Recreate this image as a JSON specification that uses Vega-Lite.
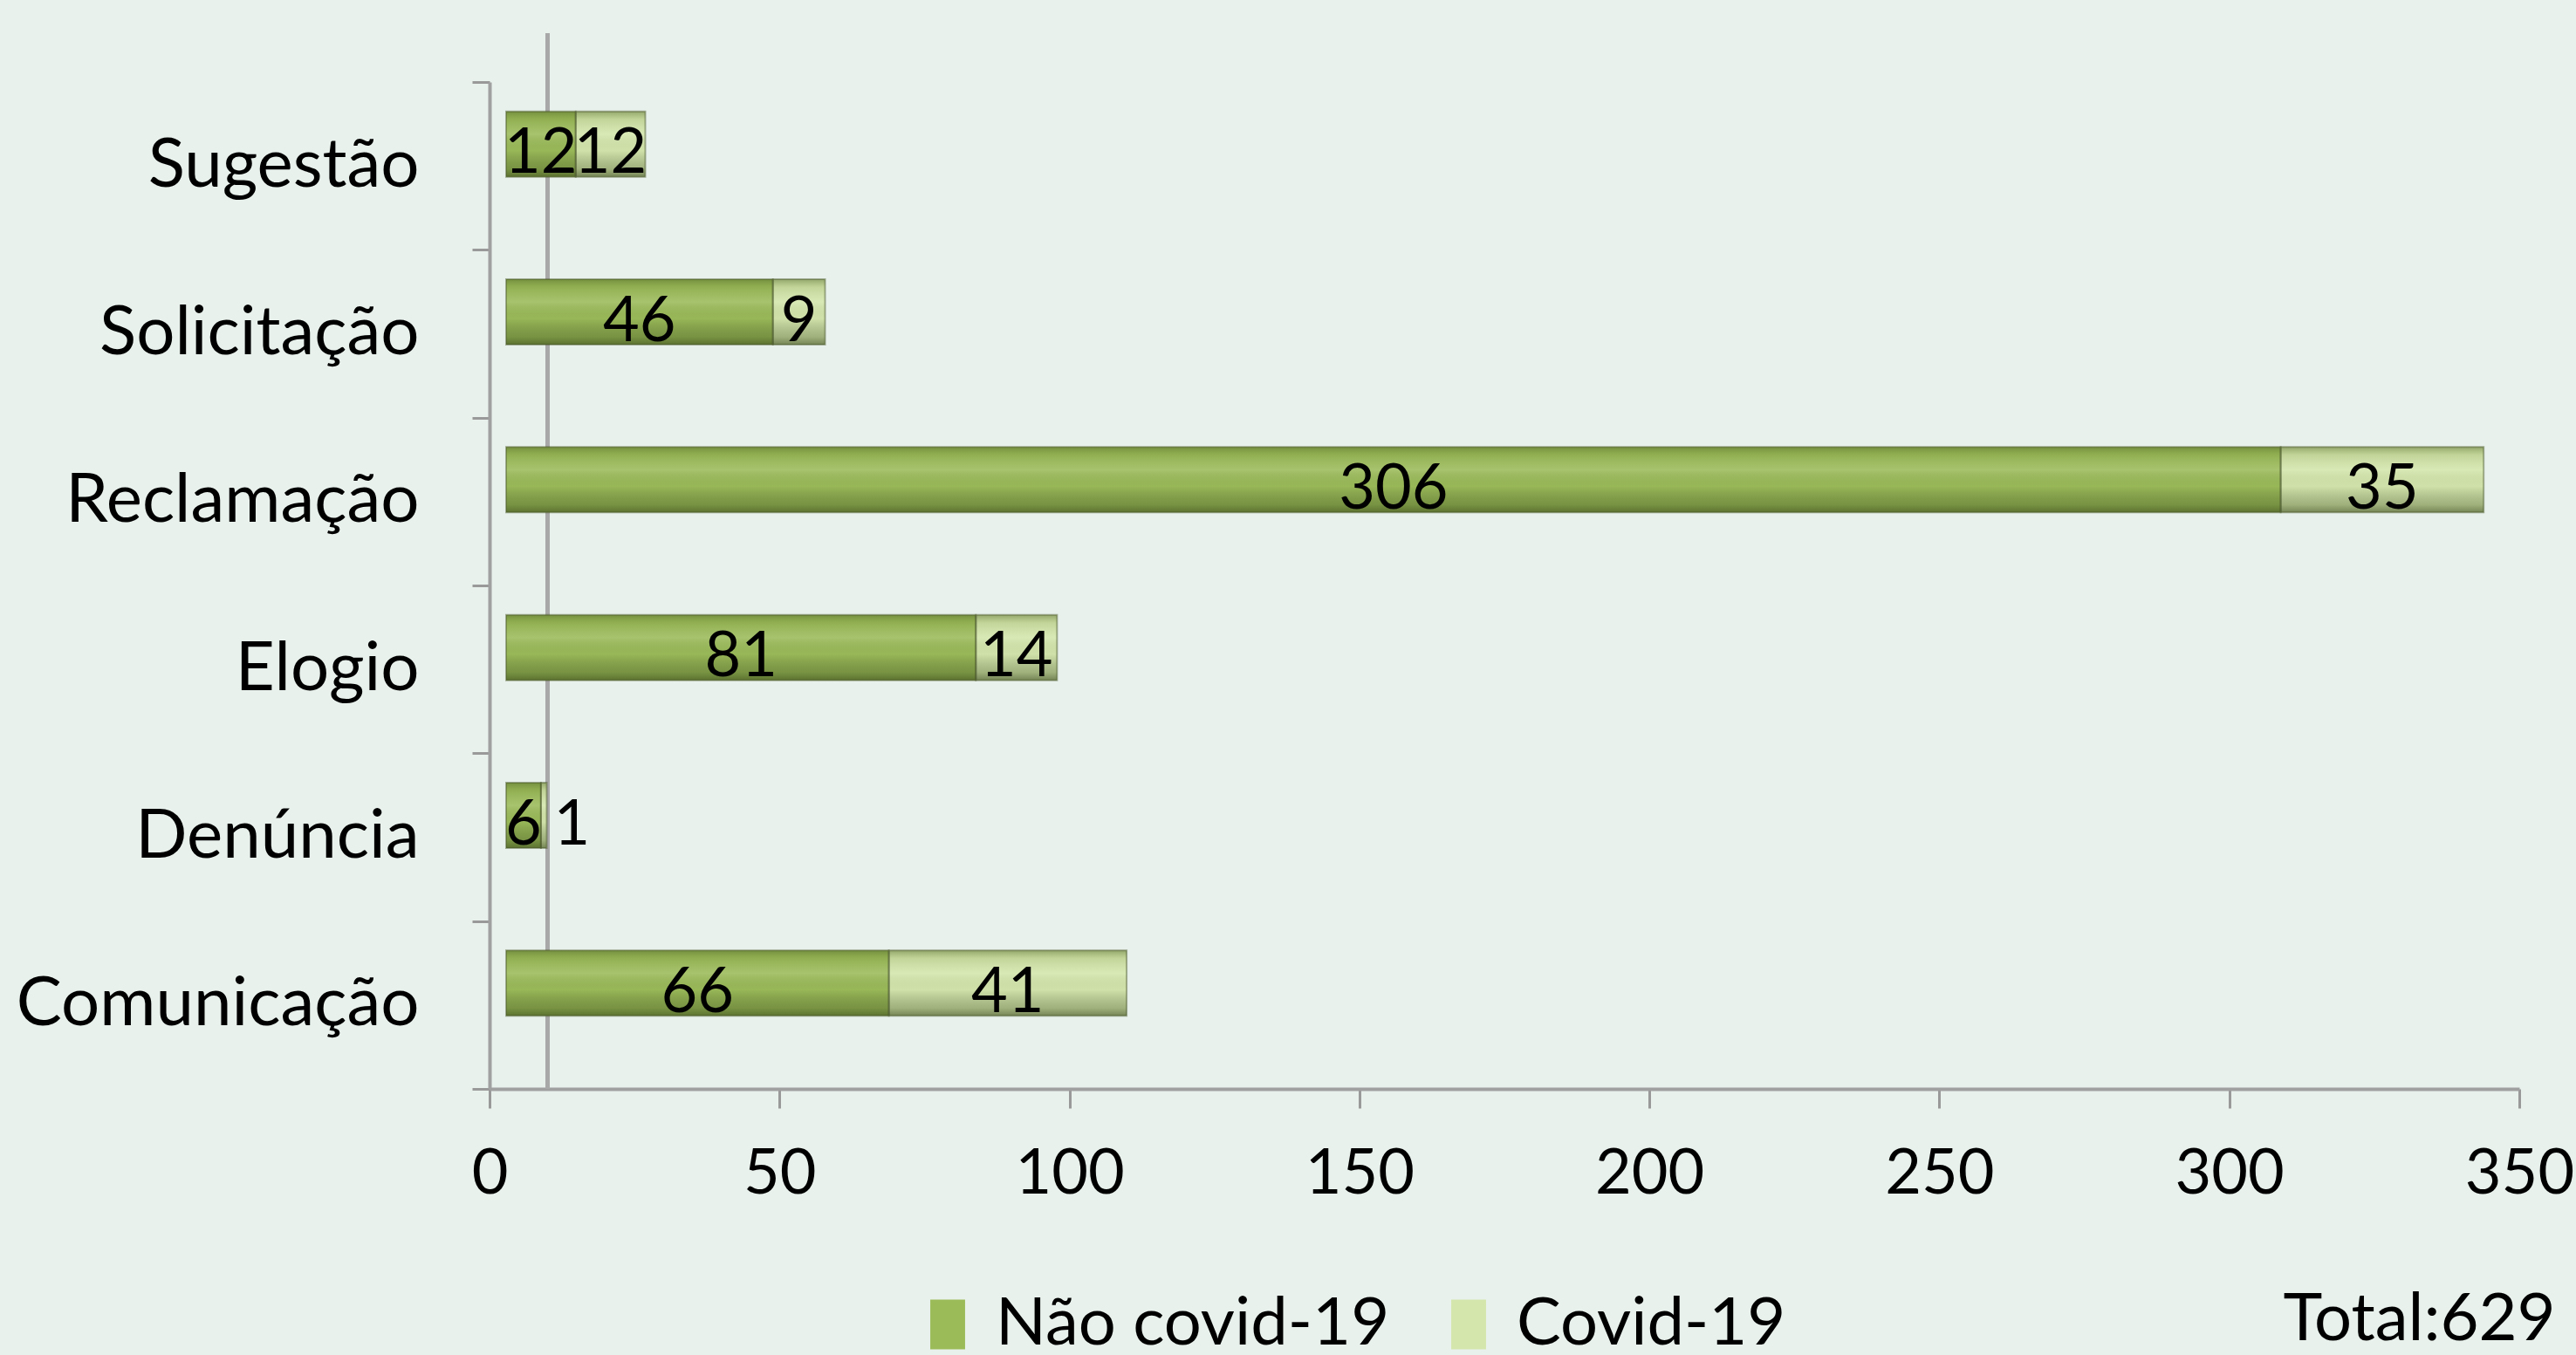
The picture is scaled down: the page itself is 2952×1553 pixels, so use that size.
{
  "$schema": "https://vega.github.io/schema/vega-lite/v6.json",
  "width": 2326,
  "height": 1154,
  "autosize": {"type": "none"},
  "padding": {"left": 561, "top": 94, "right": 65, "bottom": 305},
  "background": "#E8F1EC",
  "config": {"view": {"stroke": null}, "font": "Lato"},
  "title": {"text": "Total:629", "orient": "bottom", "anchor": "end", "baseline": "top", "offset": -80, "dx": -21, "fontSize": 76, "fontWeight": "normal", "color": "#000000", "font": "Lato"},
  "data": {"values": [
    {"categoria": "Sugestão", "serie": "Não covid-19", "k": 0, "valor": 12},
    {"categoria": "Sugestão", "serie": "Covid-19", "k": 1, "valor": 12},
    {"categoria": "Solicitação", "serie": "Não covid-19", "k": 0, "valor": 46},
    {"categoria": "Solicitação", "serie": "Covid-19", "k": 1, "valor": 9},
    {"categoria": "Reclamação", "serie": "Não covid-19", "k": 0, "valor": 306},
    {"categoria": "Reclamação", "serie": "Covid-19", "k": 1, "valor": 35},
    {"categoria": "Elogio", "serie": "Não covid-19", "k": 0, "valor": 81},
    {"categoria": "Elogio", "serie": "Covid-19", "k": 1, "valor": 14},
    {"categoria": "Denúncia", "serie": "Não covid-19", "k": 0, "valor": 6},
    {"categoria": "Denúncia", "serie": "Covid-19", "k": 1, "valor": 1},
    {"categoria": "Comunicação", "serie": "Não covid-19", "k": 0, "valor": 66},
    {"categoria": "Comunicação", "serie": "Covid-19", "k": 1, "valor": 41}
  ]},
  "encoding": {
    "y": {
      "field": "categoria", "type": "nominal",
      "sort": ["Sugestão", "Solicitação", "Reclamação", "Elogio", "Denúncia", "Comunicação"],
      "scale": {"paddingInner": 0, "paddingOuter": 0},
      "axis": {
        "title": null, "domainColor": "#A0A0A0", "domainWidth": 4,
        "tickColor": "#999999", "tickWidth": 3, "tickSize": 20, "tickBand": "extent",
        "labelFontSize": 78, "labelColor": "#000000", "labelPadding": 61, "labelFont": "Lato", "labelLimit": 0
      }
    },
    "x": {
      "field": "valor", "type": "quantitative", "stack": "zero",
      "scale": {"domain": [0, 350], "nice": false, "zero": true},
      "axis": {
        "title": null, "values": [0, 50, 100, 150, 200, 250, 300, 350], "grid": false,
        "domainColor": "#A0A0A0", "domainWidth": 4,
        "tickColor": "#999999", "tickWidth": 3, "tickSize": 22,
        "labelFontSize": 72, "labelColor": "#000000", "labelPadding": 40, "labelFont": "Lato",
        "labelFlush": false
      }
    },
    "order": {"field": "k", "type": "quantitative"}
  },
  "layer": [
    {
      "mark": {"type": "rule", "color": "#A8A8A8", "strokeWidth": 4, "yOffset": -56, "y2Offset": -43},
      "encoding": {"x": {"datum": 10}, "y": null, "order": null}
    },
    {
      "mark": {"type": "bar", "xOffset": 19, "yOffset": -25, "height": {"band": 0.39}},
      "encoding": {
        "color": {
          "field": "serie", "type": "nominal",
          "scale": {"domain": ["Não covid-19", "Covid-19"], "range": ["#9BBB59", "#D4E6AC"]},
          "legend": {
            "title": null, "orient": "none", "direction": "horizontal",
            "legendX": 487, "legendY": 1386,
            "symbolType": "M-0.7,-1H0.7V1H-0.7Z", "symbolSize": 3249,
            "symbolStrokeWidth": 0, "labelFontSize": 76, "labelFont": "Lato", "labelColor": "#000000",
            "labelOffset": 17, "columnPadding": 52, "symbolOpacity": 1, "labelLimit": 0
          }
        }
      }
    },
    {
      "mark": {
        "type": "bar", "xOffset": 19, "yOffset": -25, "height": {"band": 0.39},
        "stroke": "rgba(70,85,40,0.45)", "strokeWidth": 2,
        "fill": {
          "gradient": "linear", "x1": 0, "y1": 0, "x2": 0, "y2": 1,
          "stops": [
            {"offset": 0, "color": "rgba(70,90,30,0.45)"},
            {"offset": 0.12, "color": "rgba(90,110,40,0.15)"},
            {"offset": 0.35, "color": "rgba(255,255,255,0.12)"},
            {"offset": 0.6, "color": "rgba(0,0,0,0.02)"},
            {"offset": 0.88, "color": "rgba(40,55,15,0.3)"},
            {"offset": 1, "color": "rgba(40,55,15,0.55)"}
          ]
        }
      },
      "encoding": {"detail": {"field": "serie"}}
    },
    {
      "transform": [{"filter": "datum.valor >= 3"}],
      "mark": {"type": "text", "fontSize": 72, "font": "Lato", "color": "#000000", "xOffset": 19, "yOffset": -14, "align": "center", "baseline": "middle"},
      "encoding": {
        "x": {"field": "valor", "type": "quantitative", "stack": "zero", "bandPosition": 0.5},
        "detail": {"field": "serie"},
        "text": {"field": "valor", "type": "quantitative"}
      }
    },
    {
      "transform": [
        {"stack": "valor", "groupby": ["categoria"], "sort": [{"field": "k"}], "as": ["v0", "v1"]},
        {"filter": "datum.valor < 3"}
      ],
      "mark": {"type": "text", "fontSize": 72, "font": "Lato", "color": "#000000", "xOffset": 19, "yOffset": -14, "align": "left", "baseline": "middle", "dx": 8},
      "encoding": {
        "x": {"field": "v1", "type": "quantitative"},
        "text": {"field": "valor", "type": "quantitative"}
      }
    }
  ]
}
